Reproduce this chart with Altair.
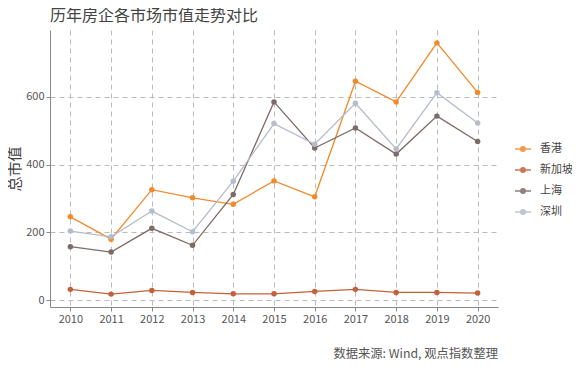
import altair as alt
import pandas as pd

years = [2010, 2011, 2012, 2013, 2014, 2015, 2016, 2017, 2018, 2019, 2020]
series_names = ["香港", "新加坡", "上海", "深圳"]
colors = ["#f28a2c", "#c4613a", "#7d6b67", "#b5bccb"]
hk = [246, 180, 326, 302, 283, 352, 305, 646, 585, 759, 613]
sg = [32, 18, 29, 23, 19, 19, 26, 32, 23, 23, 21]
sh = [158, 142, 212, 162, 312, 585, 449, 508, 431, 543, 468]
sz = [204, 187, 263, 202, 351, 521, 460, 581, 446, 612, 523]
y_ticks = [0, 200, 400, 600]

rows = []
for name, vals in zip(series_names, [hk, sg, sh, sz]):
    for yr, v in zip(years, vals):
        rows.append({"year": yr, "series": name, "value": v})
df = pd.DataFrame(rows)

FONT = "Noto Sans CJK SC"
W, H = 448, 277
LX, LY = 464, 110
LINE_DOT = "M-1,0L1,0M0.28,0A0.28,0.28,0,1,1,-0.28,0A0.28,0.28,0,1,1,0.28,0Z"

x_enc = alt.X("year:O", title=None,
              scale=alt.Scale(type="point", padding=0.5),
              axis=alt.Axis(labelAngle=0, grid=True))
y_enc = alt.Y("value:Q", title="总市值",
              scale=alt.Scale(domain=[-20, 797], nice=False, zero=False),
              axis=alt.Axis(values=y_ticks, grid=True))

legend = alt.Legend(title=None, orient="none", legendX=LX, legendY=LY,
                    symbolType=LINE_DOT, symbolSize=256, symbolStrokeWidth=1.6,
                    symbolOpacity=0.85,
                    labelFontSize=11, labelFont=FONT, labelColor="#444",
                    rowPadding=6, labelOffset=8)
scale = alt.Scale(domain=series_names, range=colors)

lines = alt.Chart(df).mark_line(strokeWidth=1.3).encode(
    x=x_enc, y=y_enc,
    stroke=alt.Stroke("series:N", sort=series_names, scale=scale, legend=legend),
)
points = alt.Chart(df).mark_circle(size=30, opacity=1).encode(
    x=x_enc, y=y_enc,
    fill=alt.Fill("series:N", sort=series_names, scale=scale, legend=legend),
)
caption = alt.Chart(pd.DataFrame({"t": ["数据来源: Wind, 观点指数整理"]})).mark_text(
    align="right", baseline="alphabetic", fontSize=12.3, color="#555", font=FONT
).encode(x=alt.value(W), y=alt.value(H + 51), text="t:N")

chart = alt.layer(lines, points, caption).properties(
    width=W, height=H,
    title=alt.TitleParams("历年房企各市场市值走势对比", anchor="start", frame="group", fontSize=16,
                          font=FONT, fontWeight="normal", color="#444", offset=6),
    autosize=alt.AutoSizeParams(type="none"),
    padding={"left": 42, "top": 22, "right": 74, "bottom": 58},
).configure_view(stroke=None).configure_axis(
    labelFont=FONT, labelFontSize=11, labelColor="#555",
    titleFont=FONT, titleFontSize=15, titleColor="#444", titleFontWeight="normal",
    gridColor="#bbbbbb", gridDash=[5, 4], gridWidth=1,
    domainColor="#888", tickColor="#888", tickSize=4, labelPadding=2,
).configure_axisY(domain=True, titlePadding=3).configure_axisX(domain=True)

chart.save("out.html", embed_options={"renderer": "svg", "actions": False})
